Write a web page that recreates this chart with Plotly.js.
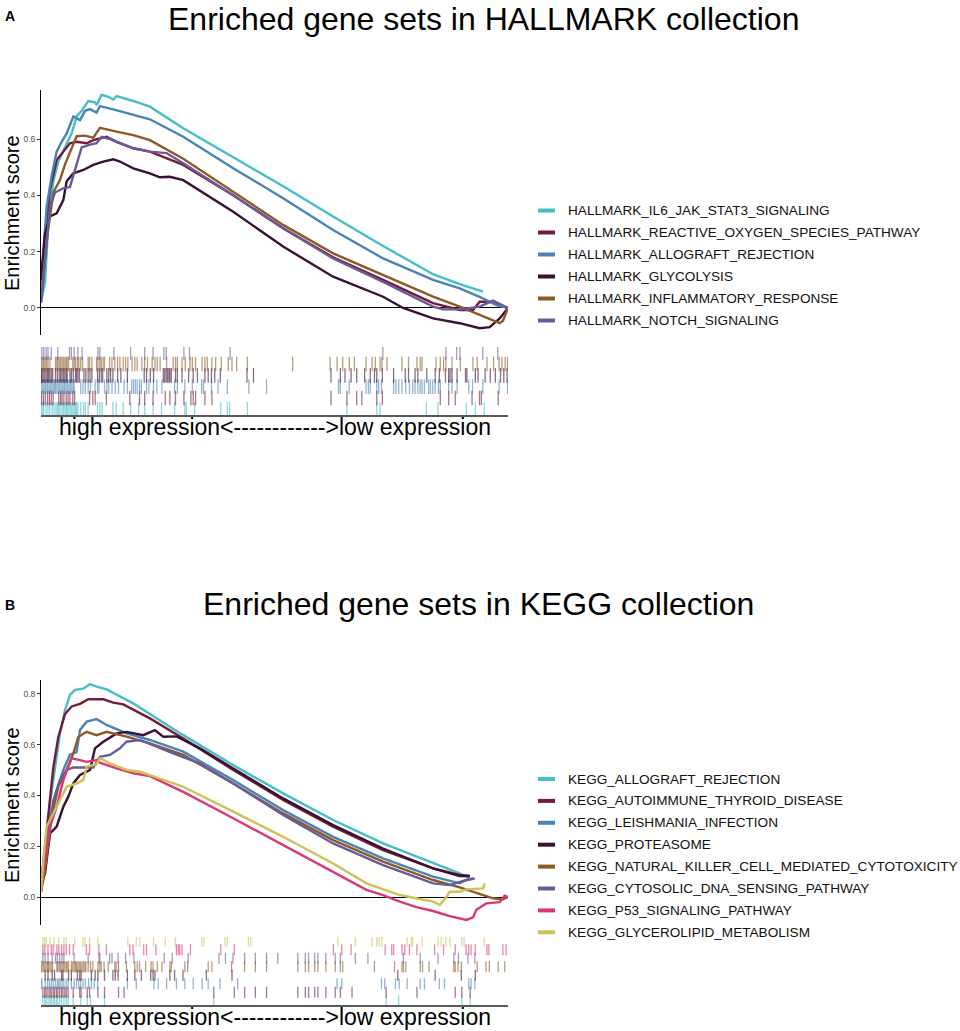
<!DOCTYPE html>
<html><head><meta charset="utf-8">
<script src="https://cdn.plot.ly/plotly-3.0.1.min.js"></script>
<style>html,body{margin:0;padding:0;background:#fff}#chart{width:960px;height:1031px}</style>
</head><body><div id="chart"></div>
<script>
// ---------------- DATA: panel A (HALLMARK) ----------------
const hallmarkNames = ["HALLMARK_IL6_JAK_STAT3_SIGNALING","HALLMARK_REACTIVE_OXYGEN_SPECIES_PATHWAY","HALLMARK_ALLOGRAFT_REJECTION","HALLMARK_GLYCOLYSIS","HALLMARK_INFLAMMATORY_RESPONSE","HALLMARK_NOTCH_SIGNALING"];
const hallmarkTicks = [0, 0.2, 0.4, 0.6];

const il6X = [0,0.86,1.57,2.64,3.71,5.14,6.56,7.63,8.70,10.13,11.55,11.91,12.98,14.41,15.48,16.19,19.76,23.32,30.46,41.16,51.85,62.55,73.25,83.95,89.66,94.65];
const il6Y = [0.02,0.09,0.30,0.45,0.52,0.57,0.62,0.68,0.70,0.735,0.73,0.72,0.757,0.75,0.74,0.752,0.735,0.715,0.638,0.535,0.432,0.325,0.22,0.12,0.085,0.058];

const rosX = [0,0.86,1.93,3.35,4.78,6.20,7.63,9.77,11.20,14.05,16.19,19.76,23.32,30.46,41.16,51.85,62.55,73.25,83.95,89.66,92.51,93.94,96.79,100];
const rosY = [0.10,0.24,0.42,0.525,0.555,0.585,0.59,0.585,0.596,0.608,0.59,0.567,0.555,0.508,0.40,0.283,0.18,0.10,0.017,-0.007,-0.007,0.022,0.022,0.0];

const allograftX = [0,1.21,2.28,3.35,4.42,5.49,6.92,8.35,9.42,10.49,11.91,12.62,15.48,19.76,23.32,30.46,41.16,51.85,62.55,73.25,83.95,89.66,94.65,97.50,100];
const allograftY = [0.08,0.36,0.47,0.555,0.59,0.62,0.68,0.667,0.70,0.706,0.694,0.717,0.705,0.685,0.67,0.608,0.496,0.39,0.277,0.176,0.10,0.07,0.034,0.01,0.0];

const glycoX = [0,0.86,1.93,3.35,4.78,5.49,6.92,9.06,11.20,13.34,15.48,16.90,19.76,23.32,25.46,27.60,30.46,41.16,51.85,62.55,73.25,77.53,83.95,89.66,93.94,96.08,98.22,100];
const glycoY = [0.10,0.265,0.325,0.336,0.383,0.45,0.478,0.49,0.508,0.52,0.528,0.52,0.496,0.478,0.464,0.466,0.454,0.342,0.218,0.111,0.04,0.0,-0.037,-0.054,-0.072,-0.068,-0.037,0.0];

const inflamX = [0,1.21,2.64,4.07,5.14,6.56,7.63,9.42,11.20,12.62,14.05,16.19,19.76,23.32,30.46,41.16,51.85,62.55,73.25,83.95,89.66,93.22,96.79,98.22,98.93,100];
const inflamY = [0.02,0.24,0.41,0.455,0.51,0.57,0.61,0.612,0.605,0.64,0.634,0.626,0.614,0.596,0.53,0.413,0.295,0.194,0.117,0.04,0.005,-0.02,-0.043,-0.054,-0.045,0.0];

const notchX = [0,0.86,1.93,3.00,4.78,6.20,7.63,8.70,10.49,11.91,12.98,14.76,19.76,23.32,26.89,30.46,41.16,51.85,62.55,73.25,83.95,86.09,89.66,93.94,96.79,100];
const notchY = [0.02,0.17,0.36,0.41,0.425,0.43,0.51,0.57,0.58,0.585,0.608,0.60,0.567,0.555,0.55,0.514,0.40,0.283,0.176,0.093,0.005,-0.005,-0.005,0.005,0.026,0.0];

// gene-hit positions (percent of ranked list)
const il6Hits = [0.1,0.4,0.6,1.1,1.5,1.9,2.4,2.8,3.2,3.5,3.8,4.1,4.5,4.8,5.1,5.4,5.6,5.9,6.2,6.5,6.8,7.1,7.4,7.6,7.9,8.5,9.1,9.5,10.1,12.1,12.6,13.1,15.4,16.1,17.6,19.2,20.9,22.2,24.0,25.8,28.6,30.8,31.1,32.9,38.5,39.9,40.4,44.2,65.5,71.9,72.6,82.5,85.0,91.1,93.0,94.9];
const rosHits = [0.1,0.5,0.9,1.4,1.8,2.2,2.6,3.8,4.2,4.5,4.9,5.4,5.8,6.2,6.8,7.2,10.4,11.1,11.6,14.0,19.0,21.1,22.2,24.0,26.6,27.6,28.8,30.6,32.1,32.6,33.1,35.1,36.6,62.1,65.5,67.6,68.7,71.9,73.1,85.5,87.3,88.7,92.3,93.9,94.3,97.9];
const allograftHits = [0.0,0.3,0.6,0.9,1.1,1.4,1.7,2.0,2.3,2.6,2.9,3.1,3.4,3.7,4.0,4.3,4.6,4.9,5.1,5.4,5.7,6.0,6.3,6.6,6.9,7.1,8.5,9.0,9.5,10.1,10.6,11.6,12.1,12.4,13.6,14.1,14.5,15.2,15.9,16.6,17.8,18.5,19.4,19.8,20.2,20.6,21.1,21.5,22.6,23.1,24.1,24.8,25.9,28.6,29.2,30.8,32.4,34.4,34.8,36.5,37.9,39.9,44.5,48.3,63.7,64.1,66.0,69.6,70.1,70.5,71.9,72.3,72.9,75.5,76.0,76.6,77.3,78.1,78.9,79.6,80.1,80.7,81.2,81.6,82.1,83.0,83.4,83.9,84.4,85.1,85.5,87.3,88.0,89.1,91.6,92.4,94.6,98.1,99.9];
const glycoHits = [0.1,0.2,0.5,0.8,1.1,1.4,1.6,1.9,2.2,2.5,3.1,3.5,3.9,4.2,4.5,4.8,5.1,5.4,5.6,6.2,6.5,6.9,7.4,7.6,7.9,8.2,9.2,9.6,10.1,10.5,10.9,12.1,12.5,12.9,13.2,14.1,14.5,14.9,15.4,16.4,17.1,18.5,22.1,22.6,23.4,24.1,26.2,26.5,26.8,27.1,27.4,27.6,27.9,28.8,29.2,30.2,31.6,32.6,33.5,35.1,35.8,36.5,37.2,38.4,44.1,45.5,62.1,64.1,65.1,66.4,67.6,69.3,70.5,71.4,71.9,73.1,75.5,78.0,78.7,80.1,80.7,82.6,84.4,85.3,86.6,87.3,87.6,88.0,89.1,90.9,91.2,93.0,93.6,95.1,96.2,97.3,98.4,99.1,99.8];
const inflamHits = [0.1,0.4,0.6,0.9,1.2,1.5,1.9,3.1,3.4,3.6,3.9,4.2,4.5,4.8,5.1,5.4,5.6,5.9,6.8,7.1,7.4,7.8,8.1,8.5,8.9,10.1,10.4,10.9,11.9,12.2,12.6,12.9,13.3,13.6,14.7,15.2,15.8,16.4,16.9,17.6,18.1,18.6,19.5,20.1,20.6,21.6,22.2,22.8,23.8,24.4,24.9,25.5,26.9,28.3,28.8,29.2,30.2,30.9,31.9,32.4,33.1,34.5,35.1,35.6,36.6,37.4,38.6,40.1,40.9,41.9,44.2,53.9,61.9,63.4,64.6,66.0,67.1,69.6,70.9,71.6,72.6,73.0,74.1,77.3,78.7,80.5,81.2,81.6,84.6,85.5,86.2,86.7,88.0,89.8,92.5,93.4,95.5,96.9,98.1,98.7,99.4,99.9];
const notchHits = [0.2,0.6,1.1,1.5,2.2,3.6,6.1,6.5,7.1,7.9,8.8,12.2,12.6,15.6,19.2,22.2,24.0,26.3,26.8,30.6,31.8,40.5,73.2,86.7,89.0,89.7,94.6,97.8];

// ---------------- DATA: panel B (KEGG) ----------------
const keggNames = ["KEGG_ALLOGRAFT_REJECTION","KEGG_AUTOIMMUNE_THYROID_DISEASE","KEGG_LEISHMANIA_INFECTION","KEGG_PROTEASOME","KEGG_NATURAL_KILLER_CELL_MEDIATED_CYTOTOXICITY","KEGG_CYTOSOLIC_DNA_SENSING_PATHWAY","KEGG_P53_SIGNALING_PATHWAY","KEGG_GLYCEROLIPID_METABOLISM"];
const keggTicks = [0, 0.2, 0.4, 0.6, 0.8];

const kAllograftX = [0,0.86,1.93,3.00,4.07,5.14,6.20,7.28,9.06,10.49,11.91,14.05,19.76,30.46,41.16,51.85,62.55,73.25,83.95,89.66,91.80];
const kAllograftY = [0.02,0.146,0.37,0.50,0.644,0.736,0.795,0.815,0.82,0.838,0.828,0.817,0.762,0.637,0.519,0.408,0.303,0.211,0.132,0.093,0.073];

const autoimmuneX = [0,0.86,1.93,2.64,3.71,5.14,6.56,8.35,10.13,13.34,15.48,17.62,23.32,30.46,41.16,51.85,62.55,73.25,83.95,89.66,91.80];
const autoimmuneY = [0.05,0.20,0.38,0.51,0.63,0.72,0.75,0.76,0.778,0.778,0.765,0.758,0.703,0.624,0.50,0.382,0.277,0.185,0.113,0.087,0.083];

const leishX = [0,0.86,1.93,3.35,4.78,6.20,7.63,8.35,9.77,11.91,14.05,18.33,23.32,30.46,41.16,51.85,62.55,73.25,83.95,89.66,91.08,92.51];
const leishY = [0.06,0.12,0.30,0.42,0.50,0.56,0.57,0.657,0.69,0.70,0.677,0.644,0.618,0.572,0.46,0.342,0.237,0.152,0.08,0.054,0.067,0.073];

const proteasomeX = [0,0.86,1.93,3.35,4.78,5.85,6.92,8.35,10.49,11.55,13.34,16.19,18.33,21.90,24.39,26.18,29.03,34.02,41.16,51.85,62.55,73.25,83.95,89.66,91.80];
const proteasomeY = [0.05,0.093,0.25,0.277,0.355,0.395,0.447,0.48,0.50,0.585,0.611,0.644,0.65,0.637,0.657,0.631,0.632,0.585,0.506,0.388,0.283,0.191,0.113,0.083,0.083];

const nkX = [0,0.86,2.28,3.71,5.49,6.92,7.99,9.77,11.91,14.05,18.33,23.32,30.46,41.16,51.85,62.55,73.25,83.95,89.66,93.94,96.79,98.93,100];
const nkY = [0.02,0.106,0.316,0.434,0.50,0.565,0.63,0.65,0.637,0.65,0.631,0.605,0.559,0.447,0.329,0.224,0.139,0.067,0.038,0.014,-0.005,-0.009,0.0];

const cytosolicX = [0,1.21,2.64,4.07,5.49,6.92,11.20,12.62,14.76,16.90,18.33,21.18,24.75,28.32,34.02,41.16,51.85,62.55,73.25,83.95,87.52,91.08,92.87];
const cytosolicY = [0.06,0.20,0.38,0.46,0.50,0.51,0.51,0.552,0.559,0.585,0.611,0.618,0.591,0.565,0.526,0.447,0.323,0.211,0.126,0.054,0.047,0.067,0.073];

const p53X = [0,0.86,1.93,3.35,4.78,5.85,6.56,8.35,9.77,11.91,12.62,16.19,19.76,23.32,30.46,41.16,51.85,62.55,69.69,73.25,76.82,80.39,83.95,87.52,91.08,92.51,93.22,95.36,98.22,99.29,100];
const p53Y = [0.02,0.146,0.277,0.355,0.46,0.513,0.546,0.539,0.532,0.539,0.529,0.506,0.487,0.476,0.414,0.31,0.205,0.10,0.028,0.008,-0.018,-0.04,-0.055,-0.075,-0.09,-0.08,-0.05,-0.025,-0.02,0.005,0.0];

const glyceroX = [0,0.50,1.21,2.64,4.07,5.49,7.63,9.06,9.77,11.91,12.62,14.76,18.33,21.18,23.32,30.46,41.16,51.85,62.55,69.69,76.82,80.39,83.95,85.38,86.80,87.52,89.66,91.08,94.65,95.01];
const glyceroY = [0.02,0.146,0.277,0.33,0.38,0.434,0.447,0.46,0.513,0.523,0.546,0.526,0.50,0.493,0.48,0.434,0.336,0.237,0.132,0.054,0.008,-0.005,-0.018,-0.031,0.0,0.021,0.021,0.03,0.034,0.054];

const kAllograftHits = [0.4,0.8,1.1,1.5,1.9,2.2,2.6,2.9,3.3,3.6,4.0,4.4,4.9,5.4,5.8,6.9,8.5,9.9,10.6,13.6,37.0,73.9,76.6,90.1,91.9];
const autoimmuneHits = [0.4,0.8,1.1,1.5,1.9,2.2,2.6,2.9,3.3,3.6,4.0,4.4,4.7,5.1,5.4,5.8,6.9,8.3,8.6,9.9,10.4,12.2,13.6,16.6,17.8,37.0,41.4,43.6,45.9,48.3,55.0,56.6,57.3,58.6,59.3,61.0,63.0,64.1,66.6,73.9,80.5,88.7,90.1,91.9];
const leishHits = [0.0,0.2,0.9,1.4,1.8,2.2,2.6,3.1,3.5,3.8,4.1,4.5,4.9,5.4,5.8,6.5,7.1,7.6,8.1,8.5,9.0,9.5,10.2,10.8,11.4,12.1,18.5,20.4,24.2,25.1,26.9,29.0,30.8,32.6,34.5,35.8,38.3,42.1,63.4,64.4,72.9,73.6,75.9,76.7,78.4,81.2,82.1,85.3,86.4,91.6,92.1,92.9];
const proteasomeHits = [0.9,1.5,2.4,2.9,4.4,4.7,5.9,6.5,7.8,8.3,8.6,10.8,11.6,12.2,13.6,15.4,15.9,16.5,18.5,20.1,21.5,23.5,24.0,24.4,27.6,28.6,30.4,35.4,40.9,76.4,84.4,90.0,93.0];
const nkHits = [0.0,0.2,0.5,0.8,1.1,1.4,1.6,1.9,2.2,2.5,3.4,3.6,3.9,4.2,4.5,4.8,5.1,5.4,5.6,5.9,6.5,6.8,7.1,7.4,7.6,7.9,8.2,8.5,8.8,9.1,9.4,9.6,10.1,10.6,11.1,12.2,12.6,12.9,13.5,14.4,15.8,16.1,16.6,18.3,20.1,20.6,21.1,22.4,23.6,24.0,24.9,25.9,27.6,27.9,30.8,31.4,35.8,36.6,40.8,43.6,45.9,48.3,55.0,56.6,57.3,58.6,59.3,61.0,63.0,64.1,64.6,71.4,75.7,77.3,77.6,78.1,81.2,81.7,83.1,88.4,88.7,89.3,90.0,93.4,95.3,96.0,97.9,99.3];
const cytosolicHits = [0.4,0.9,1.5,2.4,3.1,3.5,4.0,4.5,4.9,7.1,10.1,12.4,12.6,14.7,15.2,16.5,18.1,19.9,26.4,28.1,31.5,38.1,39.5,41.1,43.6,45.9,48.3,50.7,55.0,56.6,57.3,58.6,59.3,61.0,63.0,64.1,67.3,70.0,77.6,81.2,85.0,88.4,89.4,91.4,92.9];
const p53Hits = [0.4,0.8,1.5,2.2,2.6,3.4,3.8,4.4,4.9,5.4,6.1,6.9,9.7,10.4,12.4,14.0,19.0,19.7,22.0,22.6,24.6,29.0,29.4,29.7,30.2,32.0,38.5,41.4,62.6,64.4,66.4,73.7,75.1,75.5,77.3,77.9,78.9,80.5,84.3,86.2,88.7,91.0,91.6,92.1,93.0,95.5,95.9,98.9,99.6];
const glyceroHits = [0.4,0.8,1.1,1.9,2.8,3.8,4.9,5.4,7.2,9.0,9.4,10.4,12.2,18.6,20.4,21.1,24.1,26.6,28.8,34.4,34.9,39.4,39.9,44.4,44.9,63.6,67.3,70.9,71.9,72.4,73.0,78.4,79.3,79.6,81.6,85.0,85.7,86.7,87.6,90.1,90.6,94.9];

// ---------------- STYLE ----------------
const hallmarkColors = ["#45BEC6","#751B35","#4A84B4","#3A1034","#8C5A26","#6A5A99"];
const keggColors = ["#45BEC6","#751B35","#4A84B4","#3A1034","#8C5A26","#6A5A99","#DA3873","#CBC355"];

const W = 960, H = 1031;
const fx = p => p / W, fy = p => 1 - p / H;
const FONT = '"Liberation Sans", Arial, Helvetica, sans-serif';
function rgba(hex, a) {
  const n = parseInt(hex.slice(1), 16);
  return `rgba(${(n>>16)&255},${(n>>8)&255},${n&255},${a})`;
}

const panelA = {
  names: hallmarkNames, colors: hallmarkColors,
  xs: [il6X, rosX, allograftX, glycoX, inflamX, notchX],
  ys: [il6Y, rosY, allograftY, glycoY, inflamY, notchY],
  hits: [il6Hits, rosHits, allograftHits, glycoHits, inflamHits, notchHits],
  ax: ['x','y','x2','y2'], markSize: 10.5
};
const panelB = {
  names: keggNames, colors: keggColors,
  xs: [kAllograftX, autoimmuneX, leishX, proteasomeX, nkX, cytosolicX, p53X, glyceroX],
  ys: [kAllograftY, autoimmuneY, leishY, proteasomeY, nkY, cytosolicY, p53Y, glyceroY],
  hits: [kAllograftHits, autoimmuneHits, leishHits, proteasomeHits, nkHits, cytosolicHits, p53Hits, glyceroHits],
  ax: ['x3','y3','x4','y4'], markSize: 8
};

const traces = [];
[panelA, panelB].forEach(p => {
  p.names.forEach((nm, i) => {
    traces.push({type:'scatter', mode:'lines', name:nm, x:p.xs[i], y:p.ys[i],
      xaxis:p.ax[0], yaxis:p.ax[1], line:{color:p.colors[i], width:2.4}, hoverinfo:'skip'});
  });
  p.names.forEach((nm, i) => {
    traces.push({type:'scatter', mode:'markers', name:nm, x:p.hits[i], y:p.hits[i].map(() => i + 1),
      xaxis:p.ax[2], yaxis:p.ax[3], hoverinfo:'skip',
      marker:{symbol:'line-ns', size:p.markSize, color:rgba(p.colors[i],0.6), line:{color:rgba(p.colors[i],0.6), width:1.3}}});
  });
});

const xDom = [fx(41), fx(508)];
function esAxis(dom, range, ticks, anchor) {
  return {domain:dom, range:range, anchor:anchor, showline:true, linecolor:'#000', linewidth:1,
    ticks:'outside', ticklen:3, tickwidth:1, tickcolor:'#333', tickvals:ticks, tickformat:'.1f',
    tickfont:{size:8.5, color:'#4d4d4d', family:FONT}, showgrid:false,
    zeroline:true, zerolinecolor:'#000', zerolinewidth:1, fixedrange:true};
}
function rugX(anchor) {
  return {domain:xDom, range:[0,100], anchor:anchor, showline:true, linecolor:'#5a5a5a', linewidth:1.5,
    showticklabels:false, ticks:'', showgrid:false, zeroline:false};
}

const annotations = [];
const shapes = [];
function addText(text, px, py, size, opts) {
  annotations.push(Object.assign({text:text, x:fx(px), y:fy(py), xref:'paper', yref:'paper', showarrow:false,
    xanchor:'center', yanchor:'middle', font:{family:FONT, size:size, color:'#000'}}, opts || {}));
}
addText('<b>A</b>', 10, 16, 14);
addText('<b>B</b>', 10, 605, 14);
addText('Enriched gene sets in HALLMARK collection', 483, 0, 32, {yanchor:'top', borderpad:0});
addText('Enriched gene sets in KEGG collection', 478, 604, 32);
addText('Enrichment score', 12, 213, 20, {textangle:-90});
addText('Enrichment score', 12, 805, 20, {textangle:-90});
addText('high expression<------------>low expression', 275, 427, 23);
addText('high expression<------------>low expression', 275, 1017, 23);

function legend(names, colors, y0, step) {
  names.forEach((nm, i) => {
    const y = y0 + i * step;
    shapes.push({type:'line', xref:'paper', yref:'paper', x0:fx(538), x1:fx(555), y0:fy(y), y1:fy(y),
      line:{color:colors[i], width:4}});
    addText(nm, 566, y, 13.6, {xanchor:'left', font:{family:FONT, size:13.6, color:'#111'}});
  });
}
legend(hallmarkNames, hallmarkColors, 210.5, 22);
legend(keggNames, keggColors, 779, 21.9);

const layout = {
  width:W, height:H, margin:{l:0, r:0, t:0, b:0}, paper_bgcolor:'#fff', plot_bgcolor:'rgba(0,0,0,0)',
  showlegend:false, font:{family:FONT, color:'#000'}, hovermode:false,
  xaxis:{domain:xDom, range:[0,100], anchor:'y', visible:false},
  yaxis:esAxis([fy(335), fy(90)], [-0.0959, 0.774], hallmarkTicks, 'x'),
  xaxis2:rugX('y2'),
  yaxis2:{domain:[fy(415), fy(347)], range:[0.5, hallmarkNames.length + 0.5], anchor:'x2', visible:false},
  xaxis3:{domain:xDom, range:[0,100], anchor:'y3', visible:false},
  yaxis3:esAxis([fy(925), fy(680)], [-0.110, 0.854], keggTicks, 'x3'),
  xaxis4:rugX('y4'),
  yaxis4:{domain:[fy(1005), fy(937)], range:[0.5, keggNames.length + 0.5], anchor:'x4', visible:false},
  annotations:annotations, shapes:shapes
};

Plotly.newPlot('chart', traces, layout, {staticPlot:true, displayModeBar:false});
</script>
</body></html>
